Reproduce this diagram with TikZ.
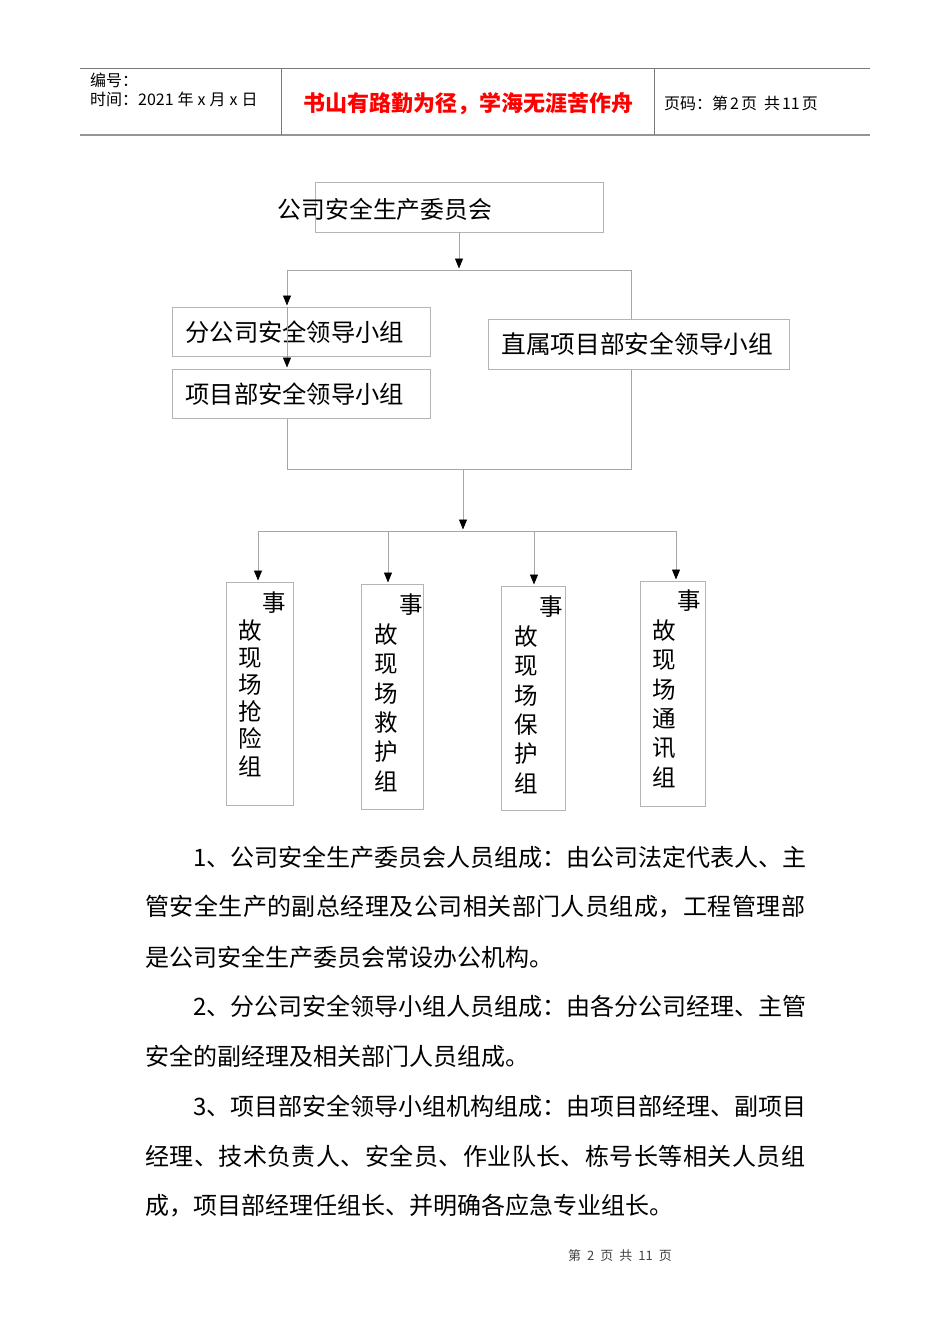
\documentclass[tikz,border=0pt]{standalone}
\usepackage{fontspec}
\setmainfont{Liberation Serif}
\newfontfamily\cjk{Noto Sans CJK SC}
\newfontfamily\cjkwide[LetterSpace=1.9]{Noto Sans CJK SC}
\usetikzlibrary{arrows.meta, positioning}

\definecolor{framegray}{HTML}{B4B4B4}
\definecolor{linegray}{HTML}{A6A6A6}
\definecolor{rulegray}{HTML}{7A7A7A}
\definecolor{mottored}{HTML}{FF0000}

\begin{document}
\begin{tikzpicture}[x=1pt, y=-1pt,
    box/.style={draw=framegray, line width=0.9pt, inner ysep=0pt, inner xsep=13pt, align=left, font=\cjk\fontsize{24.3}{28}\selectfont},
    vbox/.style={draw=framegray, line width=0.9pt, inner sep=0pt},
    vtext/.style={inner sep=0pt, align=left, anchor=north west, font=\cjk\fontsize{23.5}{29.4}\selectfont},
    link/.style={draw=linegray, line width=0.9pt},
    tip/.style={-{Triangle[color=black, width=8pt, length=10pt]}, shorten >=1.5pt},
    head/.style={inner sep=0pt, font=\cjk\fontsize{16}{18}\selectfont},
    body/.style={inner sep=0pt, anchor=west, font=\cjk\fontsize{24}{30}\selectfont},
    widebody/.style={body, font=\cjkwide\fontsize{24}{30}\selectfont}
]
    \useasboundingbox (0,0) rectangle (950,1344);

    % page header
    \draw[rulegray, line width=0.8pt] (80,68) -- (870,68);
    \draw[rulegray!80, line width=2pt] (80,135) -- (870,135);
    \draw[rulegray, line width=0.8pt] (281,68) -- (281,135);
    \draw[rulegray, line width=0.8pt] (654,68) -- (654,135);
    \node[head, anchor=west] (serial) at (90,80) {编号：};
    \node[head, anchor=west] (date) at (90,99) {时间：2021\hspace{4pt}年\hspace{4pt}x\hspace{4pt}月\hspace{4pt}x\hspace{4pt}日};
    \node[head, font=\cjk\bfseries\fontsize{22}{24}\selectfont, text=mottored] (motto) at (468,104) {书山有路勤为径，学海无涯苦作舟};
    \node[head, anchor=west] (pageno) at (664,103) {页码：第\hspace{2pt}2\hspace{2pt}页\hspace{7pt}共\hspace{2pt}11\hspace{2pt}页};

    % upper levels
    \node[vbox, minimum width=288pt, minimum height=50pt] (committee) at (459,207) {};
    \node[inner sep=0pt, font=\cjk\fontsize{23.8}{28}\selectfont] (committeetext) at (385,209) {公司安全生产委员会};
    \node[box, text width=232pt, minimum height=49pt, anchor=north west] (branch) at (172,307) {分公司安全领导小组};
    \node[box, text width=232pt, minimum height=49pt, anchor=north west] (project) at (172,369) {项目部安全领导小组};
    \node[box, text width=275pt, minimum height=50pt, anchor=north west, font=\cjk\fontsize{24.7}{28}\selectfont] (direct) at (488,319) {直属项目部安全领导小组};

    \coordinate (jl) at (287,270);
    \coordinate (jr) at (631,270);
    \coordinate (bl) at (287,469);
    \coordinate (br) at (631,469);
    \coordinate (bm) at (463,469);
    \coordinate (hub) at (463,531);

    \draw[link, tip] (committee.south) -- (committee.south |- jl);
    \draw[link] (jl) -- (jr) -- (jr |- direct.north);
    \draw[link, tip] (jl) -- (jl |- branch.north);
    \draw[link, tip] (jl |- branch.north) -- (jl |- project.north);
    \draw[link] (jl |- project.south) -- (bl) -- (br) -- (jr |- direct.south);
    \draw[link, tip] (bm) -- (hub);

    % emergency groups
    \node[vbox, minimum width=67pt, minimum height=223pt, anchor=north west] (rush) at (226,582) {};
    \node[vbox, minimum width=62pt, minimum height=225pt, anchor=north west] (rescue) at (361,584) {};
    \node[vbox, minimum width=64pt, minimum height=224pt, anchor=north west] (guard) at (501,586) {};
    \node[vbox, minimum width=65pt, minimum height=225pt, anchor=north west] (signal) at (640,581) {};

    \node[vtext, font=\cjk\fontsize{23.5}{27.2}\selectfont] (rushtext) at (238.5,592) {\hspace*{24pt}事\\故\\现\\场\\抢\\险\\组};
    \node[vtext] (rescuetext) at (374.5,594) {\hspace*{25pt}事\\故\\现\\场\\救\\护\\组};
    \node[vtext] (guardtext) at (514,596) {\hspace*{25pt}事\\故\\现\\场\\保\\护\\组};
    \node[vtext] (signaltext) at (652,590) {\hspace*{25pt}事\\故\\现\\场\\通\\讯\\组};

    \coordinate (d1) at (258,531);
    \coordinate (d2) at (388,531);
    \coordinate (d3) at (534,531);
    \coordinate (d4) at (676,531);
    \draw[link] (d1) -- (d4);
    \draw[link, tip] (d1) -- (d1 |- rush.north);
    \draw[link, tip] (d2) -- (d2 |- rescue.north);
    \draw[link, tip] (d3) -- (d3 |- guard.north);
    \draw[link, tip] (d4) -- (d4 |- signal.north);

    % notes
    \node[body] (note1a) at (193,857) {1、公司安全生产委员会人员组成：由公司法定代表人、主};
    \node[widebody] (note1b) at (145,907) {管安全生产的副总经理及公司相关部门人员组成，工程管理部};
    \node[body] (note1c) at (145,957) {是公司安全生产委员会常设办公机构。};
    \node[body] (note2a) at (193,1006) {2、分公司安全领导小组人员组成：由各分公司经理、主管};
    \node[body] (note2b) at (145,1056) {安全的副经理及相关部门人员组成。};
    \node[body] (note3a) at (193,1106) {3、项目部安全领导小组机构组成：由项目部经理、副项目};
    \node[widebody] (note3b) at (145,1156) {经理、技术负责人、安全员、作业队长、栋号长等相关人员组};
    \node[body] (note3c) at (145,1206) {成，项目部经理任组长、并明确各应急专业组长。};

    \node[head, font=\cjk\fontsize{13}{16}\selectfont, text=black!75] (footer) at (620,1256) {第\hspace{6pt}2\hspace{6pt}页\hspace{6pt}共\hspace{6pt}11\hspace{6pt}页};
\end{tikzpicture}
\end{document}
